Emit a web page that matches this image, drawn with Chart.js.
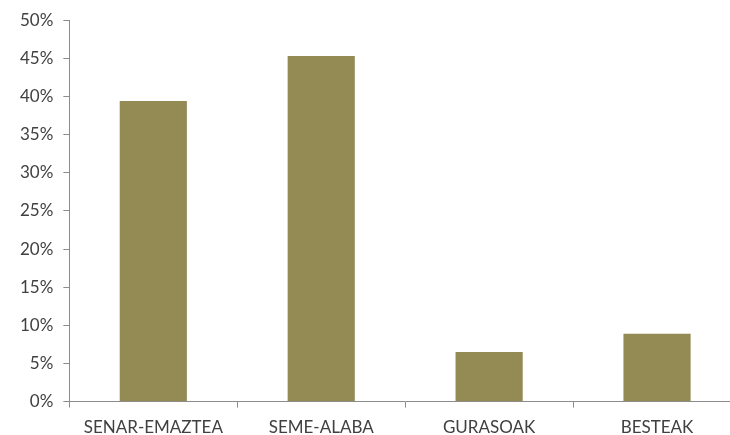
<!DOCTYPE html>
<html>
<head>
<meta charset="utf-8">
<script src="https://cdn.jsdelivr.net/npm/chart.js@4/dist/chart.umd.min.js"></script>
<style>
  html, body { margin: 0; padding: 0; background: #fff; overflow: hidden; }
  #wrap { width: 741px; height: 435px; }
</style>
</head>
<body>
<div id="wrap"><canvas id="chart" width="741" height="435"></canvas></div>
<script>
// Share of each household member group
const categories = ["SENAR-EMAZTEA", "SEME-ALABA", "GURASOAK", "BESTEAK"];
const shares = [39.4, 45.3, 6.5, 8.9];
const yTicks = [0, 5, 10, 15, 20, 25, 30, 35, 40, 45, 50];

const axisColor = "#8c8c8c";
const textColor = "#404040";
const font = { family: "Lato, 'Open Sans', sans-serif", size: 17 };

const ctx = document.getElementById("chart").getContext("2d");
new Chart(ctx, {
  type: "bar",
  data: {
    labels: categories,
    datasets: [{
      data: shares,
      backgroundColor: "#948a54",
      barPercentage: 0.4,
      categoryPercentage: 1.0,
    }],
  },
  options: {
    responsive: false,
    animation: false,
    layout: { padding: { top: 5, left: 10, right: 0, bottom: -13 } },
    plugins: {
      legend: { display: false },
      tooltip: { enabled: false },
    },
    scales: {
      y: {
        min: 0,
        max: 50,
        afterBuildTicks: (axis) => { axis.ticks = yTicks.map(v => ({ value: v })); },
        border: { color: axisColor, width: 1 },
        grid: { drawOnChartArea: false, color: axisColor, tickLength: 6 },
        ticks: {
          color: textColor,
          font: font,
          padding: 10,
          callback: (v) => v + "%",
        },
      },
      x: {
        border: { color: axisColor, width: 1 },
        grid: { drawOnChartArea: false, color: axisColor, tickLength: 6, offset: true },
        ticks: { color: textColor, font: font, padding: 10, maxRotation: 0 },
      },
    },
  },
});
</script>
</body>
</html>
